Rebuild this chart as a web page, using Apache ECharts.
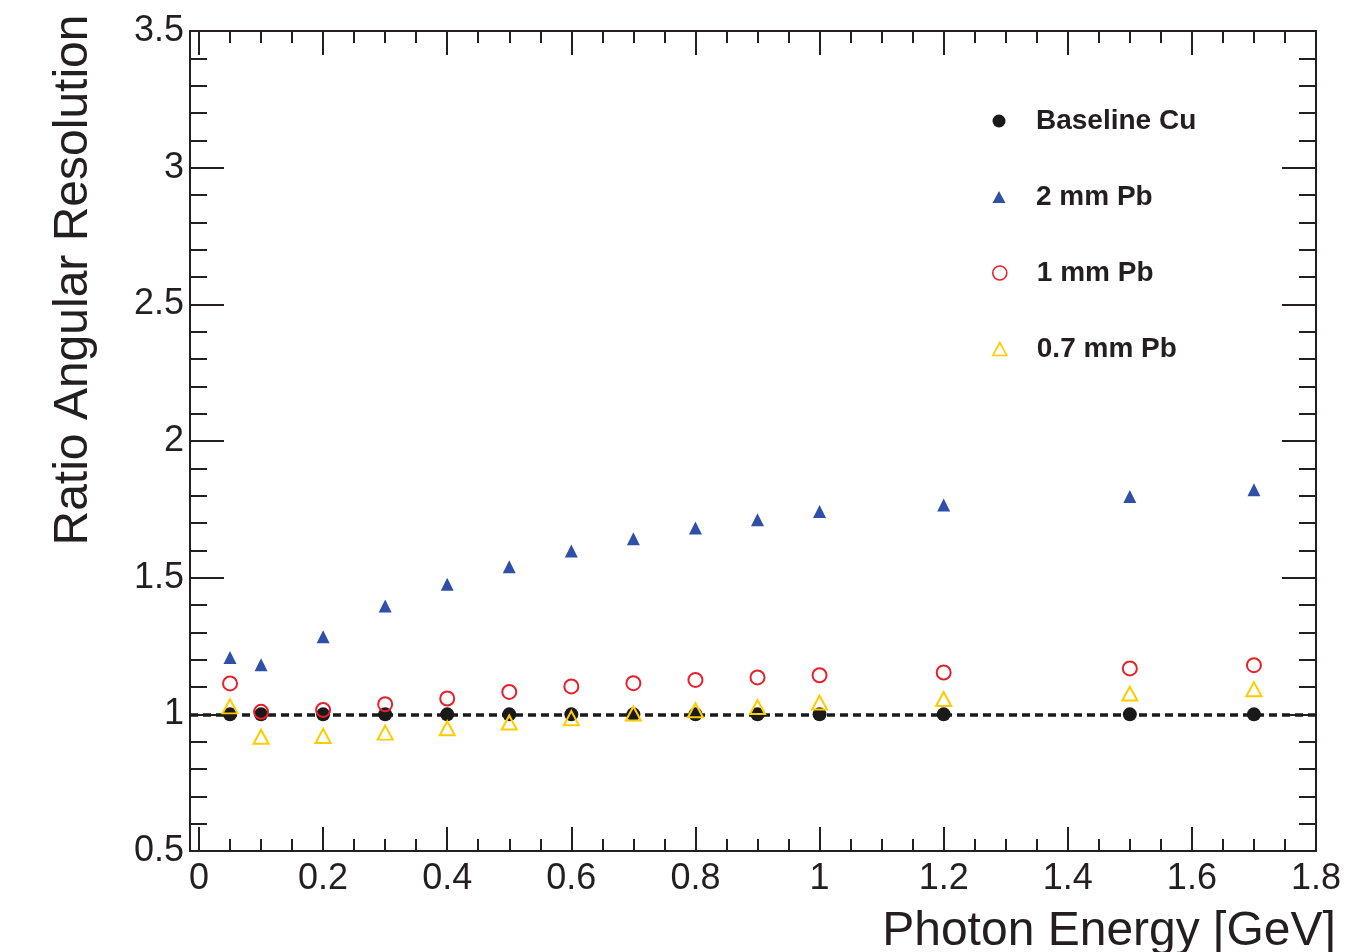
<!DOCTYPE html>
<html><head><meta charset="utf-8">
<script src="https://cdn.jsdelivr.net/npm/echarts@6/dist/echarts.min.js"></script>
<style>html,body{margin:0;padding:0;background:#fff}#c{width:1358px;height:952px}</style>
</head><body><div id="c"></div>
<script>
const energies = [0.05, 0.1, 0.2, 0.3, 0.4, 0.5, 0.6, 0.7, 0.8, 0.9, 1.0, 1.2, 1.5, 1.7];
const baselineCu = [1, 1, 1, 1, 1, 1, 1, 1, 1, 1, 1, 1, 1, 1];
const pb2mm = [1.208, 1.181, 1.284, 1.396, 1.476, 1.540, 1.598, 1.642, 1.682, 1.712, 1.742, 1.766, 1.797, 1.822];
const pb1mm = [1.113, 1.009, 1.016, 1.037, 1.058, 1.082, 1.102, 1.114, 1.126, 1.135, 1.143, 1.153, 1.168, 1.180];
const pb07mm = [1.029, 0.918, 0.921, 0.933, 0.949, 0.970, 0.986, 1.003, 1.015, 1.027, 1.043, 1.056, 1.076, 1.092];
const seriesNames = ['Baseline Cu', '2 mm Pb', '1 mm Pb', '0.7 mm Pb'];
const xMajorTicks = [0, 0.2, 0.4, 0.6, 0.8, 1, 1.2, 1.4, 1.6, 1.8];
const xMinorTicks = [0.05, 0.1, 0.15, 0.25, 0.3, 0.35, 0.45, 0.5, 0.55, 0.65, 0.7, 0.75, 0.85, 0.9, 0.95,
  1.05, 1.1, 1.15, 1.25, 1.3, 1.35, 1.45, 1.5, 1.55, 1.65, 1.7, 1.75];
const xTitle = 'Photon Energy [GeV]';
const yTitle = 'Ratio Angular Resolution';
const refLevel = 1;

const ink = '#231f20';
const X_MIN = -0.0145, X_MAX = 1.8;
const pairs = vals => energies.map((e, i) => [e, vals[i]]);

function xAx(pos, ticks, len, showLabel, showLine, extra) {
  return Object.assign({
    type: 'value', position: pos, min: X_MIN, max: X_MAX,
    axisLine: { show: showLine, onZero: false, lineStyle: { color: ink, width: 2 } },
    axisTick: { show: true, inside: true, length: len, customValues: ticks, lineStyle: { color: ink, width: 2 } },
    axisLabel: showLabel ? { show: true, customValues: ticks, color: ink, fontSize: 36, fontFamily: 'Liberation Sans, Arial, sans-serif', margin: 10,
      formatter: v => String(+v.toFixed(2)) } : { show: false },
    splitLine: { show: false }
  }, extra || {});
}
function yAx(pos, showLabel, extra) {
  return Object.assign({
    type: 'value', position: pos, min: 0.5, max: 3.5, interval: 0.5,
    axisLine: { show: true, onZero: false, lineStyle: { color: ink, width: 2 } },
    axisTick: { show: true, inside: true, length: 34, lineStyle: { color: ink, width: 2 } },
    minorTick: { show: true, splitNumber: 5, length: 17, lineStyle: { color: ink, width: 2 } },
    axisLabel: showLabel ? { show: true, color: ink, fontSize: 36, fontFamily: 'Liberation Sans, Arial, sans-serif', margin: 6,
      padding: [4, 0, 0, 0], formatter: v => String(+v.toFixed(1)) } : { show: false },
    splitLine: { show: false }, minorSplitLine: { show: false }
  }, extra || {});
}

const legendRows = [119, 195, 271, 347];
const legendIcons = [
  { icon: 'circle', w: 13, h: 13, style: { color: '#1a1a1a', borderWidth: 0, opacity: 1 } },
  { icon: 'triangle', w: 13, h: 12, style: { color: '#3050a8', borderWidth: 0, opacity: 1 } },
  { icon: 'circle', w: 14, h: 14, style: { color: 'rgba(0,0,0,0)', borderColor: '#e8202a', borderWidth: 1.6, opacity: 1 } },
  { icon: 'triangle', w: 14, h: 13, style: { color: 'rgba(0,0,0,0)', borderColor: '#ffcc00', borderWidth: 1.6, opacity: 1 } }
];
const legends = seriesNames.map((n, i) => ({
  show: true, selectedMode: false, orient: 'vertical',
  left: 999 - legendIcons[i].w / 2, top: legendRows[i] - 12, padding: 0,
  itemWidth: legendIcons[i].w, itemHeight: legendIcons[i].h,
  data: [{ name: n, icon: legendIcons[i].icon, itemStyle: legendIcons[i].style }],
  textStyle: { color: ink, fontSize: 28, fontWeight: 'bold', fontFamily: 'Liberation Sans, Arial, sans-serif',
    padding: [0, 0, 0, 37 - legendIcons[i].w / 2 - 5] }
}));

const option = {
  animation: false,
  backgroundColor: '#ffffff',
  grid: { left: 190, top: 31, right: 42, bottom: 101, containLabel: false, outerBoundsMode: 'none' },
  legend: legends,
  xAxis: [
    xAx('bottom', xMajorTicks, 24, true, true, {
      name: xTitle, nameLocation: 'middle', nameGap: 57,
      nameTextStyle: { color: ink, fontSize: 48, fontFamily: 'Liberation Sans, Arial, sans-serif', padding: [0, 0, 0, 712] }
    }),
    xAx('bottom', xMinorTicks, 12, false, false),
    xAx('top', xMajorTicks, 24, false, true),
    xAx('top', xMinorTicks, 12, false, false)
  ],
  yAxis: [
    yAx('left', true, {
      name: yTitle, nameLocation: 'middle', nameGap: 92, nameRotate: 90,
      nameTextStyle: { color: ink, fontSize: 48, fontFamily: 'Liberation Sans, Arial, sans-serif', padding: [0, 0, 0, 322] }
    }),
    yAx('right', false)
  ],
  series: [
    {
      name: seriesNames[0], type: 'scatter', data: pairs(baselineCu), symbol: 'circle', symbolSize: 14,
      itemStyle: { color: '#1a1a1a', opacity: 1 }, z: 3,
      markLine: {
        silent: true, symbol: 'none', label: { show: false },
        lineStyle: { color: '#1a1a1a', width: 3.5, type: [8, 5], opacity: 1 },
        data: [{ yAxis: refLevel }]
      }
    },
    {
      name: seriesNames[1], type: 'scatter', data: pairs(pb2mm), symbol: 'triangle', symbolSize: [13, 13],
      itemStyle: { color: '#3050a8', opacity: 1 }, z: 4
    },
    {
      name: seriesNames[2], type: 'scatter', data: pairs(pb1mm), symbol: 'circle', symbolSize: 14,
      itemStyle: { color: 'rgba(0,0,0,0)', borderColor: '#e8202a', borderWidth: 2, opacity: 1 }, z: 5
    },
    {
      name: seriesNames[3], type: 'scatter', data: pairs(pb07mm), symbol: 'triangle', symbolSize: [15, 14],
      itemStyle: { color: 'rgba(0,0,0,0)', borderColor: '#ffcc00', borderWidth: 2, opacity: 1 }, z: 6
    }
  ]
};
const chart = echarts.init(document.getElementById('c'), null, { renderer: 'canvas' });
chart.setOption(option);
</script></body></html>
